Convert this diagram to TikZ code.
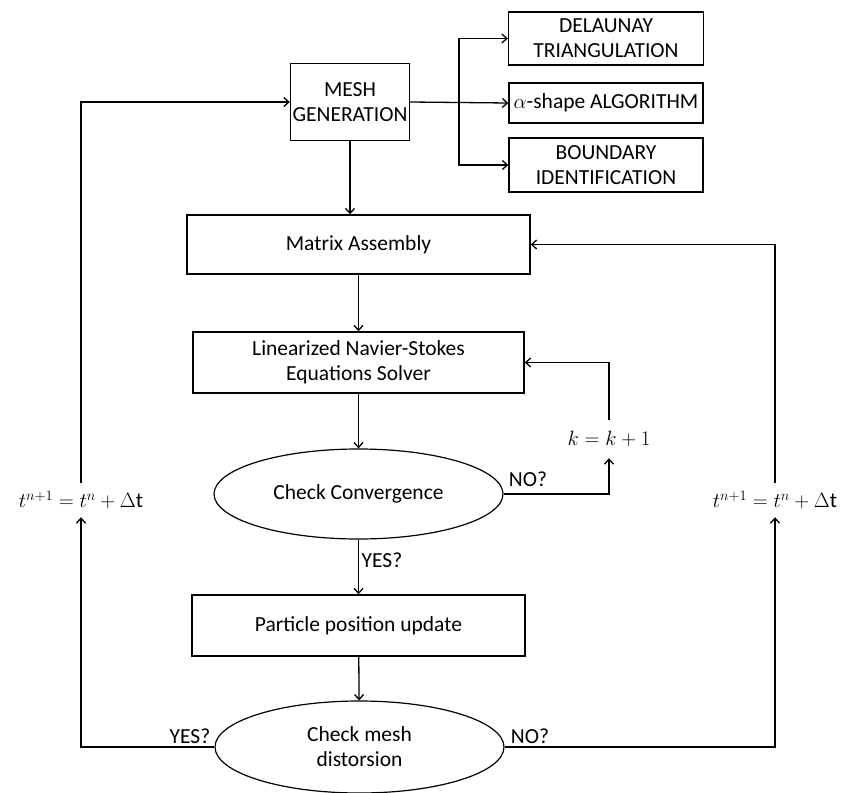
\documentclass[tikz,border=0pt]{standalone}
\usepackage{amsmath,amssymb}
\usepackage{fontspec}
\setmainfont{Carlito}
\usepackage{xcolor}
\usepackage{tikz}
\usetikzlibrary{arrows.meta,positioning,shapes.geometric}

\begin{document}
\begin{tikzpicture}[
  x=1pt, y=-1pt,
  font=\fontsize{21.5}{25}\selectfont,
  procbox/.style={draw, line width=1.4pt, align=center, inner sep=0pt},
  testbox/.style={draw, ellipse, line width=1.2pt, align=center, inner sep=0pt, minimum width=289pt},
  lbl/.style={inner sep=0pt},
  arr/.style={-{Straight Barb[length=5pt,width=9pt]}, line width=1.3pt},
  ln/.style={line width=1.3pt}
]
\useasboundingbox (0,0) rectangle (850,792);

\node[procbox, minimum width=119pt, minimum height=77pt] (mg) at (350,102) {MESH\\GENERATION};
\node[procbox, minimum width=195pt, minimum height=53pt] (dt) at (606,38.5) {DELAUNAY\\TRIANGULATION};
\node[procbox, minimum width=194pt, minimum height=40pt] (as) at (606,103) {$\alpha$-shape ALGORITHM};
\node[procbox, minimum width=194pt, minimum height=54pt] (bi) at (606,165) {BOUNDARY\\IDENTIFICATION};
\node[procbox, minimum width=343pt, minimum height=59pt] (ma) at (358.5,244.5) {Matrix Assembly};
\node[procbox, minimum width=331pt, minimum height=61pt] (ns) at (358.5,362.5) {Linearized Navier-Stokes\\Equations Solver};
\node[testbox, minimum height=90pt] (cc) at (358.5,494) {Check Convergence};
\node[procbox, minimum width=333pt, minimum height=61pt] (pp) at (358.5,625.5) {Particle position update};
\node[testbox, minimum height=92pt] (cm) at (359.5,747) {Check mesh\\distorsion};

\node[lbl, minimum height=38pt] (kk) at (609,439) {$k = k + 1$};
\node[lbl, minimum height=34pt] (tl) at (81,500) {$t^{n+1} = t^{n} + \Delta\mathrm{t}$};
\node[lbl, minimum height=34pt] (tr) at (775,500) {$t^{n+1} = t^{n} + \Delta\mathrm{t}$};

\node[lbl] (no1) at (528,479) {NO?};
\node[lbl] (ys1) at (382,560) {YES?};
\node[lbl] (ys2) at (190,736) {YES?};
\node[lbl] (no2) at (530,736) {NO?};

\coordinate (br) at (459,103);

% mesh generation branches
\draw[arr] (mg.east) -- (as.west);
\draw[arr] (br) |- (dt.west);
\draw[arr] (br) |- (bi.west);

% main flow
\draw[arr] (mg.south) -- (mg.south |- ma.north);
\draw[arr] (ma) -- (ns);
\draw[arr] (ns) -- (cc);
\draw[arr] (cc) -- (pp);
\draw[arr] (pp) -- (cm);

% inner loop
\draw[arr] (cc.east) -| (kk.south);
\draw[arr] (kk.north) |- (ns.east);

% time loops
\draw[arr] (cm.west) -| (tl.south);
\draw[arr] (tl.north) |- (mg.west);
\draw[arr] (cm.east) -| (tr.south);
\draw[arr] (tr.north) |- (ma.east);
\end{tikzpicture}
\end{document}
